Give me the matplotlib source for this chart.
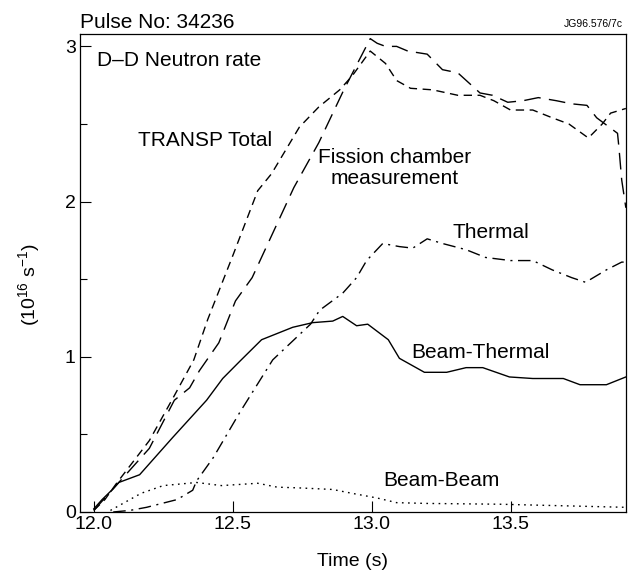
import matplotlib
matplotlib.use("Agg")
import matplotlib.pyplot as plt

plt.rcParams['font.family'] = ['Liberation Sans', 'DejaVu Sans']
plt.rcParams['mathtext.fontset'] = 'custom'
plt.rcParams['mathtext.rm'] = 'Liberation Sans'
plt.rcParams['mathtext.it'] = 'Liberation Sans:italic'

# D-D neutron rate, pulse 34236 (units of 1e16 /s)
t_transp = [12.00, 12.04, 12.08, 12.14, 12.20, 12.29, 12.36, 12.41, 12.50, 12.59,
            12.64, 12.74, 12.81, 12.885, 12.93, 12.995, 13.05, 13.09, 13.14, 13.22,
            13.31, 13.39, 13.44, 13.50, 13.58, 13.65, 13.71, 13.78, 13.83, 13.86, 13.915]
transp_total = [0.01, 0.08, 0.18, 0.32, 0.46, 0.75, 0.98, 1.24, 1.65, 2.07,
                2.18, 2.48, 2.61, 2.72, 2.81, 2.97, 2.89, 2.78, 2.73, 2.72,
                2.685, 2.685, 2.65, 2.59, 2.59, 2.54, 2.50, 2.41, 2.50, 2.57, 2.60]

t_fission = [12.00, 12.08, 12.20, 12.29, 12.345, 12.38, 12.45, 12.51, 12.57, 12.72,
             12.81, 12.90, 12.995, 13.02, 13.05, 13.09, 13.13, 13.20, 13.255, 13.31,
             13.39, 13.435, 13.49, 13.545, 13.60, 13.665, 13.72, 13.775, 13.81, 13.84,
             13.885, 13.89, 13.90, 13.915]
fission = [0.01, 0.17, 0.41, 0.72, 0.80, 0.91, 1.09, 1.36, 1.51, 2.09,
           2.38, 2.72, 3.05, 3.02, 3.00, 3.00, 2.97, 2.95, 2.85, 2.83,
           2.70, 2.685, 2.64, 2.65, 2.67, 2.65, 2.63, 2.62, 2.54, 2.50,
           2.44, 2.35, 2.14, 1.96]

t_thermal = [12.07, 12.13, 12.19, 12.30, 12.356, 12.37, 12.43, 12.525, 12.644, 12.78,
             12.813, 12.896, 12.946, 12.982, 13.04, 13.10, 13.148, 13.20, 13.255, 13.34,
             13.41, 13.50, 13.58, 13.65, 13.72, 13.77, 13.845, 13.90, 13.915]
thermal = [0.0, 0.01, 0.03, 0.08, 0.14, 0.20, 0.35, 0.64, 0.98, 1.21,
           1.30, 1.41, 1.51, 1.62, 1.73, 1.71, 1.70, 1.76, 1.73, 1.69,
           1.64, 1.62, 1.62, 1.56, 1.51, 1.48, 1.56, 1.61, 1.61]

t_bt = [12.00, 12.03, 12.07, 12.09, 12.165, 12.284, 12.406, 12.464, 12.525, 12.604,
        12.716, 12.788, 12.86, 12.896, 12.946, 12.986, 13.06, 13.10, 13.19, 13.27,
        13.34, 13.40, 13.496, 13.58, 13.69, 13.75, 13.845, 13.915]
beam_thermal = [0.02, 0.08, 0.15, 0.19, 0.24, 0.48, 0.72, 0.86, 0.97, 1.11,
                1.19, 1.22, 1.23, 1.26, 1.20, 1.21, 1.11, 0.99, 0.90, 0.90,
                0.93, 0.93, 0.87, 0.86, 0.86, 0.82, 0.82, 0.87]

t_bb = [12.06, 12.10, 12.17, 12.25, 12.37, 12.46, 12.59, 12.66, 12.74, 12.86,
        12.93, 13.02, 13.09, 13.20, 13.46, 13.915]
beam_beam = [0.01, 0.05, 0.12, 0.17, 0.19, 0.17, 0.185, 0.16, 0.155, 0.145,
             0.12, 0.09, 0.06, 0.055, 0.05, 0.03]

x_ticks = [12.0, 12.5, 13.0, 13.5]
y_ticks = [0, 1, 2, 3]

fig = plt.figure(figsize=(6.29, 5.73), dpi=100)
ax = fig.add_axes([0.127, 0.1065, 0.868, 0.8342])

ax.plot(t_transp, transp_total, color='black', lw=1.0, dashes=(6, 4))
ax.plot(t_fission, fission, color='black', lw=1.0, dashes=(12, 6))
ax.plot(t_thermal, thermal, color='black', lw=1.0, dashes=(9, 4, 1.5, 4))
ax.plot(t_bt, beam_thermal, color='black', lw=1.0)
ax.plot(t_bb, beam_beam, color='black', lw=1.0, dashes=(1.2, 3.2))

ax.set_xlim(11.95, 13.915)
ax.set_ylim(0, 3.08)
ax.set_xticks(x_ticks)
ax.set_xticklabels(['12.0', '12.5', '13.0', '13.5'])
ax.set_yticks(y_ticks)
ax.set_yticks([0.5, 1.5, 2.5], minor=True)
ax.tick_params(axis='both', which='major', direction='in', length=8, width=0.8,
               labelsize=14, pad=3)
ax.tick_params(axis='y', which='minor', direction='in', length=5, width=0.8)
for s in ax.spines.values():
    s.set_linewidth(0.9)

ax.set_xlabel('Time (s)', fontsize=14)
ax.xaxis.set_label_coords(0.5, -0.086)
ax.set_ylabel('(10$^{16}$ s$^{-1}$)', fontsize=14)
ax.yaxis.set_label_coords(-0.07, 0.475)

ax.text(12.011, 2.91, 'D\u2013D Neutron rate', fontsize=15, ha='left', va='center')
ax.text(12.158, 2.395, 'TRANSP Total', fontsize=15, ha='left', va='center')
ax.text(13.083, 2.215, 'Fission chamber\nmeasurement', fontsize=15, ha='center',
        va='center', linespacing=1.1)
ax.text(13.428, 1.80, 'Thermal', fontsize=15, ha='center', va='center')
ax.text(13.392, 1.03, 'Beam-Thermal', fontsize=15, ha='center', va='center')
ax.text(13.252, 0.20, 'Beam-Beam', fontsize=15, ha='center', va='center')

fig.text(0.127, 0.951, 'Pulse No: 34236', fontsize=15, ha='left', va='baseline')
fig.text(0.990, 0.953, 'JG96.576/7c', fontsize=7.5, ha='right', va='baseline')

fig.savefig('out.png', dpi=100)
